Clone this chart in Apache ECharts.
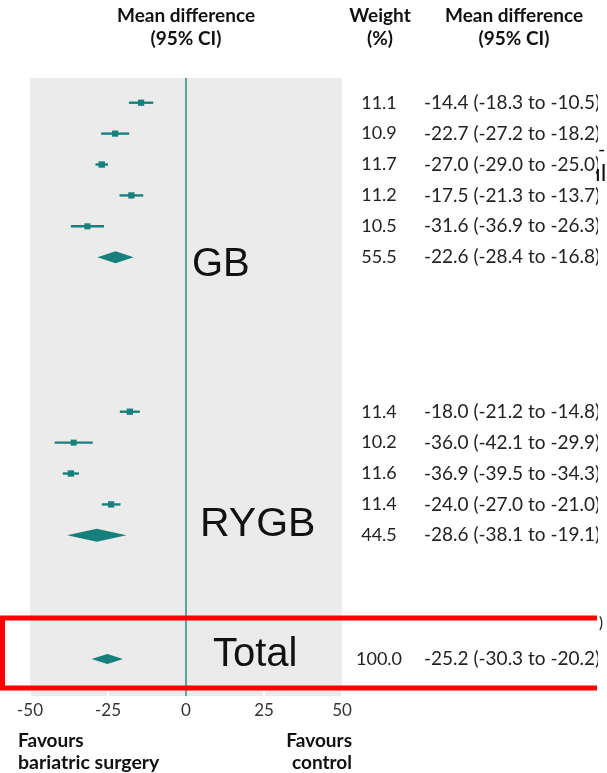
<!DOCTYPE html>
<html>
<head>
<meta charset="utf-8">
<script src="https://cdn.jsdelivr.net/npm/echarts@6/dist/echarts.min.js"></script>
<style>
html,body{margin:0;padding:0;background:#fff;}
#chart{width:607px;height:773px;}
</style>
</head>
<body>
<div id="chart"></div>
<script>
// ---- data ----
const studyRows   = [0, 1, 2, 3, 4, 10, 11, 12, 13];
const studyMean   = [-14.4, -22.7, -27.0, -17.5, -31.6, -18.0, -36.0, -36.9, -24.0];
const studyLower  = [-18.3, -27.2, -29.0, -21.3, -36.9, -21.2, -42.1, -39.5, -27.0];
const studyUpper  = [-10.5, -18.2, -25.0, -13.7, -26.3, -14.8, -29.9, -34.3, -21.0];
const studyWeight = [11.1, 10.9, 11.7, 11.2, 10.5, 11.4, 10.2, 11.6, 11.4];

const pooledLabels = ['GB', 'RYGB', 'Total'];
const pooledRows   = [5, 14, 18];
const pooledMean   = [-22.6, -28.6, -25.2];
const pooledLower  = [-28.4, -38.1, -30.3];
const pooledUpper  = [-16.8, -19.1, -20.2];
const pooledWeight = [55.5, 44.5, 100.0];

const xTicks = [-50, -25, 0, 25, 50];

// ---- styles ----
const TEAL = '#17807c';
const FONT = 'Lato';

const studyData = studyRows.map((r, i) => [studyMean[i], studyLower[i], studyUpper[i], r, studyWeight[i]]);
const pooledData = pooledRows.map((r, i) => [pooledMean[i], pooledLower[i], pooledUpper[i], r, pooledWeight[i]]);
const diamondH = [12, 13, 10];

const fmt = v => v.toFixed(1);
const textRows = studyData.concat(pooledData);

const chart = echarts.init(document.getElementById('chart'), null, {renderer: 'canvas'});

const option = {
  animation: false,
  backgroundColor: '#fff',
  grid: {left: 30, width: 312, top: 78, height: 618, show: true, backgroundColor: '#ebebeb', borderWidth: 0},
  xAxis: {
    type: 'value', min: xTicks[0], max: xTicks[xTicks.length - 1], interval: 25,
    position: 'bottom',
    axisLine: {show: false, onZero: false},
    axisTick: {show: true, inside: true, length: 7, lineStyle: {color: '#ffffff', width: 2}},
    splitLine: {show: false},
    axisLabel: {margin: 6, fontFamily: FONT, fontSize: 17, color: '#333'}
  },
  yAxis: {type: 'value', min: -0.8, max: 19.2, inverse: true, show: false},
  series: [
    {
      type: 'custom',
      name: 'studies',
      data: studyData,
      z: 5,
      renderItem: function (params, api) {
        const m = api.value(0), lo = api.value(1), hi = api.value(2), r = api.value(3), w = api.value(4);
        const pc = api.coord([m, r]);
        const pl = api.coord([lo, r]);
        const ph = api.coord([hi, r]);
        const s = 6.2 * Math.sqrt(w / 11);
        return {
          type: 'group',
          children: [
            {type: 'line', shape: {x1: pl[0], y1: pl[1], x2: ph[0], y2: ph[1]}, style: {stroke: TEAL, lineWidth: 2.4}},
            {type: 'rect', shape: {x: pc[0] - s / 2, y: pc[1] - s / 2, width: s, height: s}, style: {fill: TEAL}}
          ]
        };
      },
      markLine: {
        silent: true, symbol: 'none', label: {show: false},
        lineStyle: {color: '#2f8a87', width: 1.5, type: 'solid'},
        data: [{xAxis: 0}]
      }
    },
    {
      type: 'custom',
      name: 'pooled',
      data: pooledData,
      z: 5,
      renderItem: function (params, api) {
        const m = api.value(0), lo = api.value(1), hi = api.value(2), r = api.value(3);
        const pc = api.coord([m, r]);
        const pl = api.coord([lo, r]);
        const ph = api.coord([hi, r]);
        const h = diamondH[params.dataIndex] / 2;
        return {
          type: 'polygon',
          shape: {points: [[pl[0], pc[1]], [pc[0], pc[1] - h], [ph[0], pc[1]], [pc[0], pc[1] + h]]},
          style: {fill: TEAL}
        };
      }
    },
    {
      type: 'custom',
      name: 'columns',
      data: textRows,
      z: 6,
      renderItem: function (params, api) {
        const m = api.value(0), lo = api.value(1), hi = api.value(2), r = api.value(3), w = api.value(4);
        const y = api.coord([0, r])[1];
        return {
          type: 'group',
          children: [
            {type: 'text', x: 379, y: y, style: {text: fmt(w), fontFamily: FONT, fontSize: 18, fill: '#222', align: 'center', verticalAlign: 'middle'}},
            {type: 'text', x: 424, y: y, style: {text: fmt(m) + ' (' + fmt(lo) + ' to ' + fmt(hi) + ')', fontFamily: FONT, fontSize: 19, fill: '#222', align: 'left', verticalAlign: 'middle'}}
          ]
        };
      }
    }
  ],
  graphic: [
    // crop mask at right edge
    {type: 'rect', shape: {x: 598, y: 0, width: 20, height: 773}, style: {fill: '#fff'}, z: 100},
    // headers
    {type: 'text', x: 186, y: 16, style: {text: 'Mean difference', fontFamily: FONT, fontWeight: 'bold', fontSize: 19, fill: '#111', align: 'center', verticalAlign: 'middle'}},
    {type: 'text', x: 186, y: 39, style: {text: '(95% CI)', fontFamily: FONT, fontWeight: 'bold', fontSize: 19, fill: '#111', align: 'center', verticalAlign: 'middle'}},
    {type: 'text', x: 380, y: 16, style: {text: 'Weight', fontFamily: FONT, fontWeight: 'bold', fontSize: 19, fill: '#111', align: 'center', verticalAlign: 'middle'}},
    {type: 'text', x: 380, y: 39, style: {text: '(%)', fontFamily: FONT, fontWeight: 'bold', fontSize: 19, fill: '#111', align: 'center', verticalAlign: 'middle'}},
    {type: 'text', x: 514, y: 16, style: {text: 'Mean difference', fontFamily: FONT, fontWeight: 'bold', fontSize: 19, fill: '#111', align: 'center', verticalAlign: 'middle'}},
    {type: 'text', x: 514, y: 39, style: {text: '(95% CI)', fontFamily: FONT, fontWeight: 'bold', fontSize: 19, fill: '#111', align: 'center', verticalAlign: 'middle'}},
    // group labels
    {type: 'text', x: 192, y: 265, z: 10, style: {text: pooledLabels[0], fontFamily: 'Liberation Sans', fontSize: 40, fill: '#111', align: 'left', verticalAlign: 'middle'}},
    {type: 'text', x: 200, y: 525, z: 10, style: {text: pooledLabels[1], fontFamily: 'Liberation Sans', fontSize: 41, fill: '#111', align: 'left', verticalAlign: 'middle'}},
    {type: 'text', x: 213, y: 655, z: 10, style: {text: pooledLabels[2], fontFamily: 'Liberation Sans', fontSize: 40, fill: '#111', align: 'left', verticalAlign: 'middle'}},
    // favours
    {type: 'text', x: 18, y: 741, style: {text: 'Favours', fontFamily: FONT, fontWeight: 'bold', fontSize: 19, fill: '#111', align: 'left', verticalAlign: 'middle'}},
    {type: 'text', x: 18, y: 763, style: {text: 'bariatric surgery', fontFamily: FONT, fontWeight: 'bold', fontSize: 19.5, fill: '#111', align: 'left', verticalAlign: 'middle'}},
    {type: 'text', x: 352, y: 741, style: {text: 'Favours', fontFamily: FONT, fontWeight: 'bold', fontSize: 19, fill: '#111', align: 'right', verticalAlign: 'middle'}},
    {type: 'text', x: 352, y: 763, style: {text: 'control', fontFamily: FONT, fontWeight: 'bold', fontSize: 19, fill: '#111', align: 'right', verticalAlign: 'middle'}},
    // red highlight box
    {type: 'polyline', z: 120, shape: {points: [[597, 618], [2.5, 618], [2.5, 688], [597, 688]]}, style: {stroke: '#ff0000', lineWidth: 5, fill: null}},
    // cropped artefacts at right edge
    {type: 'text', x: 598, y: 150, z: 110, style: {text: '-', fontFamily: FONT, fontSize: 20, fill: '#111', align: 'left', verticalAlign: 'middle'}},
    {type: 'text', x: 595, y: 173, z: 110, style: {text: 'ıl', fontFamily: FONT, fontSize: 24, fill: '#111', align: 'left', verticalAlign: 'middle'}},
    {type: 'text', x: 599, y: 623, z: 110, style: {text: ')', fontFamily: FONT, fontSize: 15, fill: '#111', align: 'left', verticalAlign: 'middle'}}
  ]
};
chart.setOption(option);
</script>
</body>
</html>
